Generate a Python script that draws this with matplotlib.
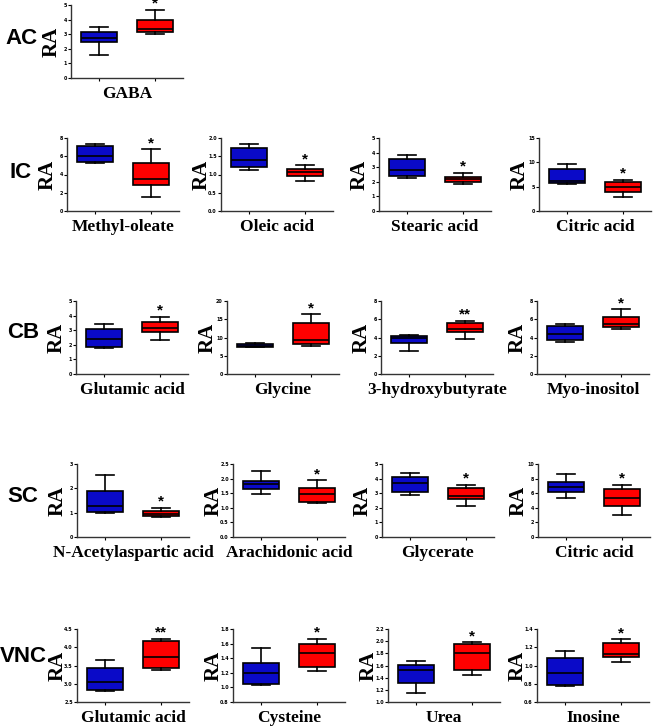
import matplotlib
matplotlib.use('Agg')
import matplotlib.pyplot as plt
from matplotlib.ticker import MultipleLocator, FormatStrFormatter

W, H = 655, 727
BLUE = '#0A0AC8'
RED = '#FF0000'

# ---- data ----
row_labels = ['AC', 'IC', 'CB', 'SC', 'VNC']

ac_names = ['GABA']
ic_names = ['Methyl-oleate', 'Oleic acid', 'Stearic acid', 'Citric acid']
cb_names = ['Glutamic acid', 'Glycine', '3-hydroxybutyrate', 'Myo-inositol']
sc_names = ['N-Acetylaspartic acid', 'Arachidonic acid', 'Glycerate', 'Citric acid']
vnc_names = ['Glutamic acid', 'Cysteine', 'Urea', 'Inosine']

# box stats: [whislo, q1, median, q3, whishi]
ac_blue = [[1.55, 2.50, 2.73, 3.16, 3.52]]
ac_red = [[2.98, 3.14, 3.34, 3.98, 4.66]]
ic_blue = [[5.22, 5.36, 6.05, 7.10, 7.37],
           [1.12, 1.20, 1.40, 1.72, 1.84],
           [2.28, 2.40, 2.81, 3.55, 3.85],
           [5.5, 5.8, 6.2, 8.7, 9.6]]
ic_red = [[1.57, 2.85, 3.55, 5.29, 6.78],
          [0.81, 0.97, 1.07, 1.16, 1.25],
          [1.84, 1.98, 2.17, 2.35, 2.63],
          [2.9, 4.0, 4.98, 5.94, 6.36]]
cb_blue = [[1.77, 1.86, 2.41, 3.07, 3.41],
           [7.27, 7.45, 7.8, 8.18, 8.45],
           [2.47, 3.35, 3.9, 4.18, 4.29],
           [3.56, 3.75, 4.36, 5.31, 5.45]]
cb_red = [[2.34, 2.86, 3.14, 3.59, 3.91],
          [7.7, 8.3, 9.2, 13.9, 16.4],
          [3.85, 4.65, 4.91, 5.64, 5.85],
          [4.95, 5.13, 5.49, 6.29, 7.09]]
sc_blue = [[0.99, 1.03, 1.29, 1.88, 2.53],
           [1.48, 1.64, 1.83, 1.91, 2.25],
           [2.85, 3.06, 3.72, 4.11, 4.38],
           [5.3, 6.12, 6.85, 7.49, 8.58]]
sc_red = [[0.82, 0.85, 0.96, 1.08, 1.19],
          [1.16, 1.21, 1.48, 1.68, 1.94],
          [2.15, 2.60, 2.83, 3.36, 3.58],
          [2.97, 4.25, 5.39, 6.58, 7.17]]
vnc_blue = [[2.79, 2.83, 3.04, 3.43, 3.64],
            [1.03, 1.05, 1.195, 1.34, 1.54],
            [1.15, 1.31, 1.52, 1.61, 1.68],
            [0.78, 0.79, 0.92, 1.08, 1.16]]
vnc_red = [[3.37, 3.42, 3.74, 4.17, 4.23],
           [1.23, 1.28, 1.465, 1.60, 1.665],
           [1.45, 1.52, 1.81, 1.95, 1.98],
           [1.04, 1.09, 1.13, 1.25, 1.285]]

ac_stars = ['*']
ic_stars = ['*', '*', '*', '*']
cb_stars = ['*', '*', '**', '*']
sc_stars = ['*', '*', '*', '*']
vnc_stars = ['**', '*', '*', '*']

# y axis: (min, max, step, format)
ac_yaxis = [(0, 5, 1, '%d')]
ic_yaxis = [(0, 8, 2, '%d'), (0, 2, 0.5, '%.1f'), (0, 5, 1, '%d'), (0, 15, 5, '%d')]
cb_yaxis = [(0, 5, 1, '%d'), (0, 20, 5, '%d'), (0, 8, 2, '%d'), (0, 8, 2, '%d')]
sc_yaxis = [(0, 3, 1, '%d'), (0, 2.5, 0.5, '%.1f'), (0, 5, 1, '%d'), (0, 10, 2, '%d')]
vnc_yaxis = [(2.5, 4.5, 0.5, '%.1f'), (0.8, 1.8, 0.2, '%.1f'), (1.0, 2.2, 0.2, '%.1f'), (0.6, 1.4, 0.2, '%.1f')]

rows = [
    (ac_names, ac_blue, ac_red, ac_stars, ac_yaxis),
    (ic_names, ic_blue, ic_red, ic_stars, ic_yaxis),
    (cb_names, cb_blue, cb_red, cb_stars, cb_yaxis),
    (sc_names, sc_blue, sc_red, sc_stars, sc_yaxis),
    (vnc_names, vnc_blue, vnc_red, vnc_stars, vnc_yaxis),
]

# ---- layout (pixels) ----
AX_W, AX_H = 112, 73
row_tops = [5, 138, 301, 464, 629]
row_lefts = [[71], [67, 221, 379, 539], [76, 227, 381, 537],
             [77, 233, 382, 538], [77, 233, 388, 537]]
label_pos = [(21, 38), (21, 172), (23, 333), (23, 497), (23, 657)]

fig = plt.figure(figsize=(W / 100, H / 100), dpi=100)


def draw_panel(left, top, name, blue, red, star, yaxis):
    ax = fig.add_axes([left / W, 1 - (top + AX_H) / H, AX_W / W, AX_H / H])
    stats = []
    for s in (blue, red):
        lo, q1, med, q3, hi = s
        stats.append(dict(whislo=lo, q1=q1, med=med, q3=q3, whishi=hi, fliers=[]))
    bp = ax.bxp(stats, positions=[1, 2], widths=0.65, capwidths=0.32,
                patch_artist=True, showfliers=False,
                boxprops=dict(linewidth=1.2, edgecolor='black'),
                medianprops=dict(color='black', linewidth=1.2),
                whiskerprops=dict(color='black', linewidth=1.2),
                capprops=dict(color='black', linewidth=1.2))
    for patch, c in zip(bp['boxes'], (BLUE, RED)):
        patch.set_facecolor(c)

    ymin, ymax, step, fmt = yaxis
    ax.set_ylim(ymin, ymax)
    ax.set_xlim(0.5, 2.5)
    ax.yaxis.set_major_locator(MultipleLocator(step))
    ax.yaxis.set_major_formatter(FormatStrFormatter(fmt))
    ax.set_xticks([1, 2])
    ax.set_xticklabels([])
    ax.tick_params(axis='x', length=2, width=0.8)
    ax.tick_params(axis='y', length=2, width=0.8, labelsize=3.5, pad=1)
    for t in ax.get_yticklabels():
        t.set_fontweight('bold')
    for sp in ('top', 'right'):
        ax.spines[sp].set_visible(False)
    for sp in ('left', 'bottom'):
        ax.spines[sp].set_linewidth(1.0)
        ax.spines[sp].set_color('#333333')

    # significance mark just above the red whisker
    ax.annotate(star, xy=(2, red[4]), xytext=(0, 1.5), textcoords='offset points',
                ha='center', va='baseline', fontsize=11, fontweight='bold',
                family='Liberation Sans', annotation_clip=False)
    ax.text(0.5, -0.22, name, transform=ax.transAxes, ha='center', va='center',
            fontsize=12.5, fontweight='bold', family='Liberation Serif')
    ax.text(-0.175, 0.5, 'RA', transform=ax.transAxes, ha='center', va='center',
            rotation=90, fontsize=15, fontweight='bold', family='Liberation Serif')
    return ax


for r, (names, blues, reds, stars, yaxes) in enumerate(rows):
    for c, name in enumerate(names):
        draw_panel(row_lefts[r][c], row_tops[r], name, blues[c], reds[c], stars[c], yaxes[c])
    lx, ly = label_pos[r]
    fig.text(lx / W, 1 - ly / H, row_labels[r], ha='center', va='center',
             fontsize=16, fontweight='bold', family='Liberation Sans')

fig.savefig('out.png', dpi=100)
